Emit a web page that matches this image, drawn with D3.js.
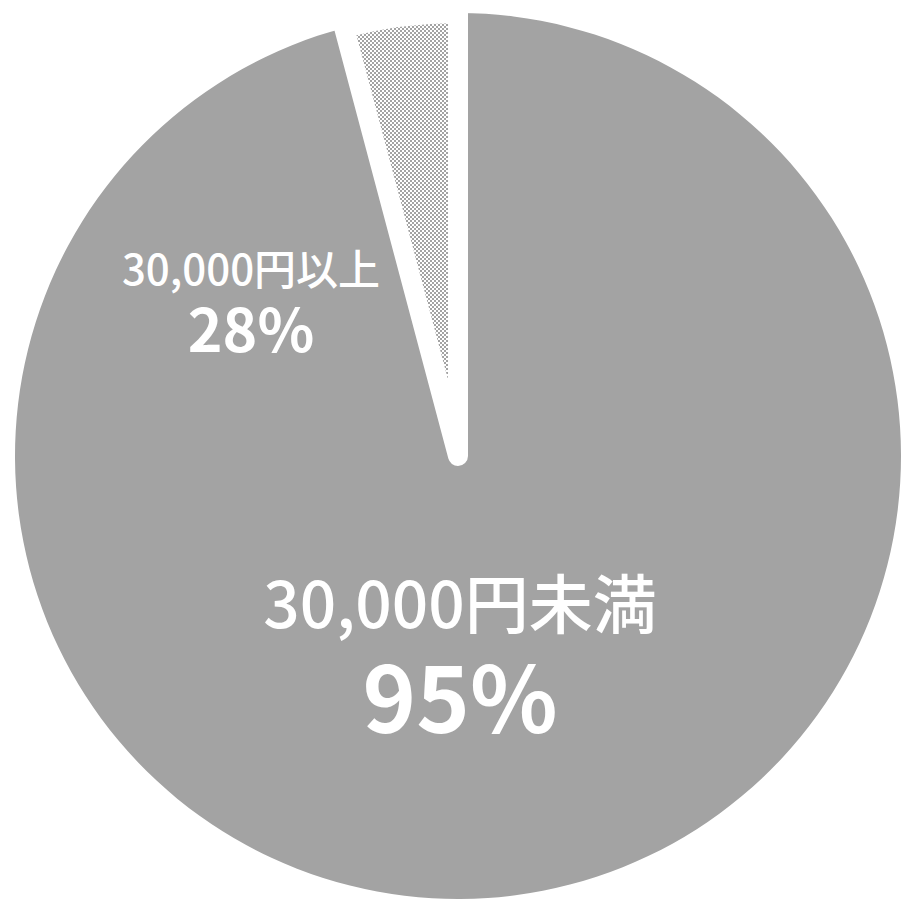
<!DOCTYPE html>
<html lang="ja">
<head>
<meta charset="utf-8">
<script src="https://cdn.jsdelivr.net/npm/d3@7"></script>
<style>
  html, body { margin: 0; padding: 0; background: #fff; }
  svg { display: block; }
  text { font-family: "Noto Sans CJK JP", "Noto Sans", sans-serif; fill: #fff; }
</style>
</head>
<body>
<svg id="chart" width="902" height="899"></svg>
<script>
// Share of purchases by amount
const categories = ["30,000円未満", "30,000円以上"];
const shares = [95, 4.1];
const shareLabels = ["95%", "28%"];

const width = 902, height = 899;
const cx = 458, cy = 456, radius = 443;

const svg = d3.select("#chart");

// 2px checker fill for the minor slice
const defs = svg.append("defs");
const pat = defs.append("pattern")
  .attr("id", "checker")
  .attr("patternUnits", "userSpaceOnUse")
  .attr("width", 4).attr("height", 4);
pat.append("rect").attr("width", 4).attr("height", 4).attr("fill", "#ffffff");
pat.append("rect").attr("x", 0).attr("y", 0).attr("width", 2).attr("height", 2).attr("fill", "#a3a3a3");
pat.append("rect").attr("x", 2).attr("y", 2).attr("width", 2).attr("height", 2).attr("fill", "#a3a3a3");

const data = categories.map((c, i) => ({ category: c, value: shares[i], label: shareLabels[i] }));

const pie = d3.pie().value(d => d.value).sort(null);
const arc = d3.arc().innerRadius(0).outerRadius(radius);

const g = svg.append("g").attr("transform", `translate(${cx},${cy})`);

const arcs = pie(data);

// major slice first, minor slice on top with a wide white outline
g.selectAll("path.slice")
  .data(arcs)
  .join("path")
  .attr("class", "slice")
  .attr("d", arc)
  .attr("fill", (d, i) => i === 0 ? "#a3a3a3" : "url(#checker)")
  .attr("stroke", (d, i) => i === 0 ? "none" : "#ffffff")
  .attr("stroke-width", (d, i) => i === 0 ? 0 : 20)
  .attr("stroke-linejoin", "round");

// label placement, relative to the pie centre
const labelPos = [
  { x: 2, nameY: 172, valueY: 277, nameSize: 64, valueSize: 91, nameWeight: 500, valueWeight: 700 },
  { x: -207, nameY: -171, valueY: -104, nameSize: 42, valueSize: 59, nameWeight: 500, valueWeight: 600 }
];

const labels = g.selectAll("g.label")
  .data(arcs)
  .join("g")
  .attr("class", "label");

labels.append("text")
  .attr("x", (d, i) => labelPos[i].x)
  .attr("y", (d, i) => labelPos[i].nameY)
  .attr("text-anchor", "middle")
  .style("font-size", (d, i) => labelPos[i].nameSize + "px")
  .style("font-weight", (d, i) => labelPos[i].nameWeight)
  .text(d => d.data.category);

labels.append("text")
  .attr("x", (d, i) => labelPos[i].x)
  .attr("y", (d, i) => labelPos[i].valueY)
  .attr("text-anchor", "middle")
  .style("font-size", (d, i) => labelPos[i].valueSize + "px")
  .style("font-weight", (d, i) => labelPos[i].valueWeight)
  .text(d => d.data.label);
</script>
</body>
</html>
